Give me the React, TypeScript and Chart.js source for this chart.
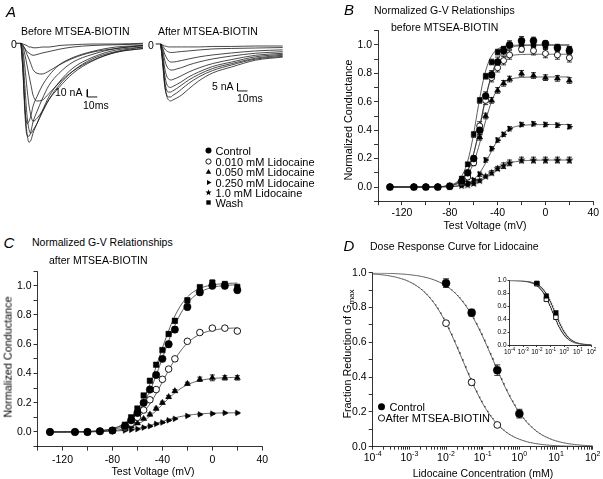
import React, { useEffect, useRef } from 'react';
import { Chart, registerables } from 'chart.js';

Chart.register(...registerables);

const FONT = '"Liberation Sans", Arial, Helvetica, sans-serif';

// ---------------- Panel A: current traces (ms, nA) ----------------
const traceTimesMs = [0, 2, 4, 6, 8, 10, 12, 16, 21, 28, 38, 52, 71, 95, 122];
const tracesBeforeNA = [
  [0, -1, -2, -3, -5, -5, -6, -6, -5, -5, -3, -2, -1, -1, 0],
  [0, -3, -7, -11, -13, -15, -16, -15, -13, -11, -8, -5, -3, -2, -1],
  [0, -3, -8, -15, -21, -28, -35, -40, -41, -37, -29, -20, -12, -7, -3],
  [0, -5, -16, -29, -43, -56, -69, -77, -76, -67, -53, -37, -23, -12, -7],
  [0, -11, -33, -60, -83, -97, -104, -100, -91, -75, -59, -40, -24, -12, -7],
  [0, -20, -60, -96, -115, -120, -116, -107, -93, -75, -56, -37, -21, -11, -5],
  [0, -33, -87, -120, -132, -129, -120, -107, -91, -71, -52, -33, -19, -9, -5],
  [0, -40, -96, -123, -124, -117, -105, -91, -75, -56, -40, -25, -15, -7, -3],
  [0, -37, -87, -107, -104, -96, -84, -71, -57, -43, -29, -19, -11, -5, -3],
];
const tracesAfterNA = [
  [0, -0.6, -1.3, -1.6, -1.9, -1.9, -1.9, -1.9, -1.9, -1.9, -1.9, -1.6, -1.6, -1.3, -1.3],
  [0, -1.3, -3.2, -4.5, -5.2, -5.5, -5.5, -5.2, -4.9, -4.5, -3.9, -3.2, -2.9, -2.6, -2.3],
  [0, -2.6, -6.5, -9.1, -11, -11.7, -11.7, -11.4, -10.7, -9.7, -8.4, -7.1, -5.8, -4.5, -3.8],
  [0, -3.9, -10.4, -14.3, -16.2, -16.9, -16.9, -16.2, -15.3, -13.6, -11.7, -9.7, -7.8, -6.0, -5.0],
  [0, -6.5, -15.6, -20.8, -22.7, -23.4, -23.1, -22.1, -20.5, -18.2, -15.6, -12.7, -10.1, -7.3, -6.0],
  [0, -9.1, -20.1, -26, -27.9, -28.2, -27.6, -26.3, -24.4, -21.4, -18.2, -14.6, -11.7, -8.3, -6.7],
  [0, -11, -24, -29.9, -31.2, -31.2, -30.5, -28.9, -26.6, -23.4, -19.8, -15.9, -12.7, -9.2, -7.3],
  [0, -13, -27.3, -33.1, -34.4, -34.4, -33.4, -31.8, -29.2, -25.6, -21.4, -17.2, -13.6, -9.8, -8.0],
  [0, -11.7, -26, -33.8, -36.4, -37, -36.4, -35.1, -33.1, -29.2, -24, -18.8, -14.9, -10.5, -8.5],
];
const scaleBarBefore = { t: 66.3, i: -71.6, nA: 10, ms: 10 };
const scaleBarAfter = { t: 76.8, i: -30.5, nA: 5, ms: 10 };

const legendLabels = ['Control', '0.010 mM Lidocaine', '0.050 mM Lidocaine', '0.250 mM Lidocaine', '1.0 mM Lidocaine', 'Wash'];

// ---------------- Panel B: G-V before MTSEA-BIOTIN ----------------
const bVolt = [-130, -110, -100, -90, -80, -70, -65, -60, -55, -50, -45, -40, -35, -30, -20, -10, 0, 10, 20];
const bControl = [0, 0, 0, 0, 0.005, 0.04, 0.1, 0.2, 0.4, 0.64, 0.79, 0.88, 0.96, 1.0, 1.03, 1.03, 1.01, 0.98, 0.96];
const bControlErr = [0, 0, 0, 0, 0, 0.01, 0.015, 0.02, 0.03, 0.03, 0.03, 0.035, 0.03, 0.03, 0.03, 0.025, 0.02, 0.025, 0.025];
const bLido010 = [0, 0, 0, 0, 0.005, 0.03, 0.07, 0.17, 0.43, 0.61, 0.77, 0.84, 0.89, 0.93, 0.97, 0.96, 0.94, 0.93, 0.91];
const bLido010Err = [0, 0, 0, 0, 0, 0.01, 0.01, 0.02, 0.03, 0.03, 0.03, 0.03, 0.03, 0.03, 0.02, 0.03, 0.03, 0.03, 0.03];
const bLido050 = [0, 0, 0, 0, 0.005, 0.03, 0.08, 0.19, 0.35, 0.5, 0.61, 0.68, 0.73, 0.76, 0.8, 0.785, 0.77, 0.765, 0.75];
const bLido050Err = [0, 0, 0, 0, 0, 0.01, 0.01, 0.015, 0.02, 0.02, 0.02, 0.02, 0.02, 0.02, 0.02, 0.02, 0.02, 0.02, 0.02];
const bLido250 = [0, 0, 0, 0, 0.003, 0.015, 0.03, 0.05, 0.09, 0.19, 0.27, 0.33, 0.37, 0.41, 0.44, 0.445, 0.44, 0.435, 0.425];
const bLido250Err = [0, 0, 0, 0, 0, 0.005, 0.01, 0.01, 0.015, 0.015, 0.015, 0.015, 0.015, 0.015, 0.015, 0.015, 0.015, 0.015, 0.015];
const bLido1000 = [0, 0, 0, 0, 0.002, 0.01, 0.015, 0.025, 0.045, 0.075, 0.1, 0.13, 0.15, 0.17, 0.19, 0.19, 0.19, 0.19, 0.19];
const bLido1000Err = [0, 0, 0, 0, 0, 0.005, 0.005, 0.01, 0.01, 0.01, 0.015, 0.015, 0.02, 0.02, 0.02, 0.02, 0.02, 0.02, 0.02];
const bWash = [0, 0, 0, 0, 0.01, 0.06, 0.16, 0.37, 0.61, 0.78, 0.88, 0.95, 0.97, 1.0, 1.0, 1.0, 0.99, 0.98, 0.97];
const bWashErr = [0, 0, 0, 0, 0, 0.01, 0.015, 0.02, 0.02, 0.02, 0.02, 0.02, 0.02, 0.02, 0.02, 0.02, 0.02, 0.02, 0.02];
// Boltzmann fit parameters: [Control, 0.010, 0.050, 0.250, 1.0, Wash]
const bFitGmax = [1.0, 0.935, 0.775, 0.44, 0.19, 1.0];
const bFitVhalf = [-53, -54, -52.5, -47, -47, -57.5];
const bFitSlope = [6, 5.5, 6, 6.5, 8, 5];

// ---------------- Panel C: G-V after MTSEA-BIOTIN ----------------
const cVolt = [-130, -110, -100, -90, -80, -70, -65, -60, -55, -50, -45, -40, -35, -30, -20, -10, 0, 10, 20];
const cControl = [0, 0, 0, 0.005, 0.01, 0.04, 0.08, 0.13, 0.2, 0.29, 0.39, 0.5, 0.6, 0.7, 0.855, 0.955, 1.0, 1.0, 0.97];
const cControlErr = [0, 0, 0, 0, 0, 0, 0, 0.01, 0.01, 0.01, 0.015, 0.015, 0.02, 0.02, 0.02, 0.02, 0.02, 0.02, 0.02];
const cLido010 = [0, 0, 0, 0.005, 0.01, 0.03, 0.06, 0.1, 0.15, 0.22, 0.29, 0.36, 0.43, 0.5, 0.62, 0.68, 0.71, 0.71, 0.69];
const cLido010Err = [0, 0, 0, 0, 0, 0, 0, 0.01, 0.01, 0.01, 0.01, 0.01, 0.01, 0.015, 0.01, 0.01, 0.01, 0.01, 0.01];
const cLido050 = [0, 0, 0, 0.003, 0.008, 0.02, 0.04, 0.06, 0.09, 0.12, 0.16, 0.2, 0.24, 0.28, 0.33, 0.36, 0.37, 0.37, 0.37];
const cLido050Err = [0, 0, 0, 0, 0, 0, 0, 0.005, 0.005, 0.01, 0.01, 0.01, 0.01, 0.01, 0.01, 0.015, 0.02, 0.015, 0.015];
const cLido250 = [0, 0, 0, 0.002, 0.005, 0.01, 0.015, 0.02, 0.03, 0.04, 0.055, 0.065, 0.08, 0.09, 0.11, 0.12, 0.125, 0.13, 0.13];
const cLido250Err = [0, 0, 0, 0, 0, 0, 0, 0, 0.005, 0.005, 0.005, 0.005, 0.005, 0.005, 0.005, 0.005, 0.005, 0.005, 0.005];
const cWash = [0, 0, 0, 0.005, 0.01, 0.05, 0.1, 0.16, 0.25, 0.35, 0.46, 0.56, 0.67, 0.76, 0.9, 0.99, 1.02, 1.01, 0.99];
const cWashErr = [0, 0, 0, 0, 0, 0, 0.01, 0.01, 0.01, 0.01, 0.01, 0.01, 0.015, 0.015, 0.015, 0.015, 0.02, 0.02, 0.02];
// Boltzmann fit parameters: [Control, 0.010, 0.050, 0.250, Wash]
const cFitGmax = [1.01, 0.715, 0.375, 0.132, 1.02];
const cFitVhalf = [-40, -39, -40, -42, -42.5];
const cFitSlope = [10.5, 11, 11, 12, 10];

// ---------------- Panel D: dose response ----------------
const dConc = [0.01, 0.05, 0.25, 1.0];
const dControl = [0.94, 0.77, 0.44, 0.19];
const dControlErr = [0.025, 0.02, 0.03, 0.025];
const dAfterConc = [0.01, 0.05, 0.25];
const dAfter = [0.71, 0.37, 0.125];
const dAfterErr = [0.01, 0.015, 0.01];
const dFitIC50 = [0.19, 0.028]; // [Control, After]
const dFitHill = [0.85, 0.87];
const dExps = [-4, -3, -2, -1, 0, 1, 2];

// inset
const insetConc = [0.01, 0.05, 0.25];
const insetControl = [0.96, 0.76, 0.5];
const insetAfter = [0.95, 0.71, 0.43];
const insetFitIC50 = [0.22, 0.15];
const insetFitHill = [0.9, 0.9];

// ---------------- helpers ----------------
const boltz = (v: number, g: number, vh: number, k: number) => g / (1 + Math.exp((vh - v) / k));
const hill = (c: number, ic: number, n: number) => 1 / (1 + Math.pow(c / ic, n));
const fitVoltages: number[] = [];
for (let v = -130; v <= 20; v += 1) fitVoltages.push(v);
const fitConcs: number[] = [];
for (let i = 0; i <= 300; i++) fitConcs.push(Math.pow(10, -4 + i * 0.02));
const logTickValues: number[] = [];
for (let e = -4; e < 2; e++) for (let m = 1; m <= 9; m++) logTickValues.push(m * Math.pow(10, e));
logTickValues.push(100);

function starPath(ctx: CanvasRenderingContext2D, x: number, y: number, R: number, r: number) {
  for (let i = 0; i < 10; i++) {
    const ang = -Math.PI / 2 + (i * Math.PI) / 5;
    const rr = i % 2 === 0 ? R : r;
    const px = x + rr * Math.cos(ang);
    const py = y + rr * Math.sin(ang);
    if (i === 0) ctx.moveTo(px, py);
    else ctx.lineTo(px, py);
  }
  ctx.closePath();
}

function drawMarker(ctx: CanvasRenderingContext2D, k: string, x: number, y: number, r: number) {
  ctx.save();
  ctx.lineWidth = 0.9;
  ctx.strokeStyle = '#000';
  ctx.fillStyle = '#000';
  ctx.beginPath();
  if (k === 'dot' || k === 'ring') {
    ctx.arc(x, y, r, 0, Math.PI * 2);
    if (k === 'ring') {
      ctx.fillStyle = '#fff';
      ctx.fill();
      ctx.stroke();
    } else ctx.fill();
  } else if (k === 'up') {
    ctx.moveTo(x, y - r);
    ctx.lineTo(x + r * 0.866, y + r / 2);
    ctx.lineTo(x - r * 0.866, y + r / 2);
    ctx.closePath();
    ctx.fill();
  } else if (k === 'right') {
    ctx.moveTo(x + r, y);
    ctx.lineTo(x - r / 2, y + r * 0.866);
    ctx.lineTo(x - r / 2, y - r * 0.866);
    ctx.closePath();
    ctx.fill();
  } else if (k === 'star') {
    starPath(ctx, x, y, r, r * 0.42);
    ctx.fill();
  } else if (k === 'square') {
    ctx.rect(x - r, y - r, 2 * r, 2 * r);
    ctx.fill();
  }
  ctx.restore();
}

const marksPlugin = {
  id: 'marks',
  afterDraw(chart: any, _a: any, opts: any) {
    if (!opts || !opts.items) return;
    const ctx = chart.ctx;
    for (const m of opts.items) drawMarker(ctx, m.k, m.x, m.y, m.r);
  },
};

const zeroTicksPlugin = {
  id: 'zeroTicks',
  afterDraw(chart: any, _a: any, opts: any) {
    if (!opts || !opts.pairs) return;
    const ctx = chart.ctx;
    ctx.save();
    ctx.strokeStyle = '#000';
    ctx.lineWidth = 0.9;
    for (const [xid, yid] of opts.pairs) {
      const x0 = chart.scales[xid].getPixelForValue(0);
      const y0 = chart.scales[yid].getPixelForValue(0);
      ctx.beginPath();
      ctx.moveTo(x0 - 5, y0);
      ctx.lineTo(x0, y0);
      ctx.stroke();
    }
    ctx.restore();
  },
};

const errorBarsPlugin = {
  id: 'errorBars',
  beforeDatasetsDraw(chart: any, _a: any, opts: any) {
    const ctx = chart.ctx;
    const cap = (opts && opts.cap) || 2.5;
    ctx.save();
    ctx.strokeStyle = '#000';
    ctx.lineWidth = 0.8;
    chart.data.datasets.forEach((ds: any, di: number) => {
      if (!ds.errors) return;
      const meta = chart.getDatasetMeta(di);
      const ys = chart.scales[meta.yAxisID];
      meta.data.forEach((el: any, i: number) => {
        const e = ds.errors[i];
        if (!e) return;
        const v = ds.data[i].y;
        const yt = ys.getPixelForValue(v + e);
        const yb = ys.getPixelForValue(v - e);
        ctx.beginPath();
        ctx.moveTo(el.x, yt);
        ctx.lineTo(el.x, yb);
        ctx.moveTo(el.x - cap, yt);
        ctx.lineTo(el.x + cap, yt);
        ctx.moveTo(el.x - cap, yb);
        ctx.lineTo(el.x + cap, yb);
        ctx.stroke();
      });
    });
    ctx.restore();
  },
};

const powLabelsPlugin = {
  id: 'powLabels',
  afterDraw(chart: any, _a: any, opts: any) {
    if (!opts || !opts.exps) return;
    const ctx = chart.ctx;
    const sc = chart.scales.x;
    const baseY = chart.chartArea.bottom + opts.dy;
    ctx.save();
    ctx.fillStyle = '#000';
    ctx.textBaseline = 'alphabetic';
    ctx.textAlign = 'left';
    for (const e of opts.exps) {
      const x = sc.getPixelForValue(Math.pow(10, e));
      ctx.font = `${opts.size}px ${FONT}`;
      const w1 = ctx.measureText('10').width;
      ctx.font = `${opts.sup}px ${FONT}`;
      const sup = String(e);
      const w2 = ctx.measureText(sup).width;
      const x0 = x - (w1 + w2) / 2;
      ctx.font = `${opts.size}px ${FONT}`;
      ctx.fillText('10', x0, baseY);
      ctx.font = `${opts.sup}px ${FONT}`;
      ctx.fillText(sup, x0 + w1, baseY - opts.raise);
    }
    ctx.restore();
  },
};

function makeStar(): HTMLCanvasElement {
  const c = document.createElement('canvas');
  c.width = 9;
  c.height = 9;
  const ctx = c.getContext('2d')!;
  ctx.fillStyle = '#000';
  ctx.beginPath();
  starPath(ctx, 4.5, 4.7, 4.2, 1.8);
  ctx.fill();
  return c;
}

function axis(o: any) {
  return {
    type: o.type || 'linear',
    min: o.min,
    max: o.max,
    afterFit: (s: any) => {
      if (o.width != null) s.width = o.width;
      if (o.height != null) s.height = o.height;
    },
    afterBuildTicks: o.tickValues
      ? (s: any) => {
          s.ticks = o.tickValues.map((v: number) => ({ value: v }));
        }
      : undefined,
    ticks: {
      stepSize: o.step,
      autoSkip: false,
      maxRotation: 0,
      minRotation: 0,
      color: '#000',
      font: { family: FONT, size: o.fontSize || 10.5 },
      padding: o.pad ?? 2,
      callback: o.cb,
    },
    grid: { drawOnChartArea: false, drawTicks: true, tickLength: o.tickLen ?? 4, color: '#000', lineWidth: 0.8 },
    border: { display: true, color: '#000', width: 0.8 },
  };
}

const yTenthsCb = (v: any) => {
  const k = Math.round(Number(v) * 10);
  return k >= 0 && k <= 10 && k % 2 === 0 ? (k / 10).toFixed(1) : '';
};
const xFortyCb = (v: any) => (Math.round(Number(v)) % 40 === 0 ? String(Math.round(Number(v))) : '');

function pointDs(xs: number[], ys: number[], errs: number[] | null, mark: any) {
  return {
    data: xs.map((x, i) => ({ x, y: ys[i] })),
    errors: errs,
    showLine: false,
    pointStyle: mark.style,
    pointRadius: mark.r,
    pointRotation: mark.rot || 0,
    backgroundColor: mark.fill,
    borderColor: '#000',
    borderWidth: mark.fill === '#fff' ? 0.9 : 0.5,
    order: 0,
  };
}
function lineDs(pts: { x: number; y: number }[]) {
  return {
    data: pts,
    showLine: true,
    borderColor: '#333',
    borderWidth: 0.8,
    pointRadius: 0,
    tension: 0,
    order: 1,
  };
}

function baseOptions(pad: any) {
  return {
    responsive: false,
    animation: false,
    devicePixelRatio: 1,
    events: [],
    layout: { padding: pad },
  };
}

export default function App() {
  const aRef = useRef<HTMLCanvasElement>(null);
  const bRef = useRef<HTMLCanvasElement>(null);
  const cRef = useRef<HTMLCanvasElement>(null);
  const dRef = useRef<HTMLCanvasElement>(null);
  const iRef = useRef<HTMLCanvasElement>(null);

  useEffect(() => {
    const star = makeStar();
    const charts: Chart[] = [];

    // ---------- Panel A ----------
    const traceDs = (traces: number[][], xid: string, yid: string) =>
      traces.map((tr) => ({
        data: traceTimesMs.map((t, i) => ({ x: t, y: tr[i] })),
        xAxisID: xid,
        yAxisID: yid,
        showLine: true,
        borderColor: '#1a1a1a',
        borderWidth: 0.8,
        pointRadius: 0,
        cubicInterpolationMode: 'monotone',
      }));
    const barDs = (b: any, xid: string, yid: string) => ({
      data: [
        { x: b.t, y: b.i + b.nA },
        { x: b.t, y: b.i },
        { x: b.t + b.ms, y: b.i },
      ],
      xAxisID: xid,
      yAxisID: yid,
      showLine: true,
      borderColor: '#000',
      borderWidth: 0.9,
      pointRadius: 0,
      tension: 0,
    });
    const legendX = 208.5;
    const legendY = [150.5, 161.5, 172.2, 182.5, 192.5, 202.5];
    const legendKinds = [
      { k: 'dot', r: 3 },
      { k: 'ring', r: 2.6 },
      { k: 'up', r: 3.2 },
      { k: 'right', r: 3 },
      { k: 'star', r: 3.3 },
      { k: 'square', r: 2.2 },
    ];
    charts.push(
      new Chart(aRef.current!, {
        type: 'scatter',
        data: {
          datasets: [
            ...traceDs(tracesBeforeNA, 'x', 'y'),
            ...traceDs(tracesAfterNA, 'xa', 'ya'),
            barDs(scaleBarBefore, 'x', 'y'),
            barDs(scaleBarAfter, 'xa', 'ya'),
          ] as any,
        },
        options: {
          ...baseOptions(0),
          plugins: {
            legend: { display: false },
            tooltip: { enabled: false },
            marks: { items: legendKinds.map((m, i) => ({ ...m, x: legendX, y: legendY[i] })) },
            zeroTicks: { pairs: [['x', 'y'], ['xa', 'ya']] },
          },
          scales: {
            x: { type: 'linear', display: false, min: -21, max: 319 },
            y: { type: 'linear', display: false, min: -249.0, max: 57.7 },
            xa: { type: 'linear', display: false, min: -160.7, max: 179.3 },
            ya: { type: 'linear', display: false, min: -120.78, max: 28.57 },
          },
        } as any,
        plugins: [marksPlugin, zeroTicksPlugin],
      })
    );

    // ---------- G-V panels ----------
    const markControl = { style: 'circle', r: 3.5, fill: '#000' };
    const mark010 = { style: 'circle', r: 3, fill: '#fff' };
    const mark050 = { style: 'triangle', r: 3.5, fill: '#000' };
    const mark250 = { style: 'triangle', r: 3.3, fill: '#000', rot: 90 };
    const mark1000 = { style: star, r: 3, fill: '#000' };
    const markWash = { style: 'rect', r: 3.4, fill: '#000' };

    const bSeries = [
      [bControl, bControlErr, markControl],
      [bLido010, bLido010Err, mark010],
      [bLido050, bLido050Err, mark050],
      [bLido250, bLido250Err, mark250],
      [bLido1000, bLido1000Err, mark1000],
      [bWash, bWashErr, markWash],
    ];
    const bDatasets: any[] = bSeries.map(([v, e, m]: any) => pointDs(bVolt, v, e, m));
    bFitGmax.forEach((g, i) =>
      bDatasets.push(lineDs(fitVoltages.map((v) => ({ x: v, y: boltz(v, g, bFitVhalf[i], bFitSlope[i]) }))))
    );
    charts.push(
      new Chart(bRef.current!, {
        type: 'scatter',
        data: { datasets: bDatasets },
        options: {
          ...baseOptions({ top: 30.8, right: 9.7, left: 0, bottom: 0 }),
          plugins: { legend: { display: false }, tooltip: { enabled: false }, errorBars: { cap: 2.5 } },
          scales: {
            x: axis({ min: -140, max: 40, step: 20, height: 33.8, cb: xFortyCb, pad: 2 }),
            y: axis({ min: -0.1, max: 1.1, step: 0.1, width: 38, cb: yTenthsCb, pad: 2 }),
          },
        } as any,
        plugins: [errorBarsPlugin],
      })
    );

    const markControlC = { style: 'circle', r: 3.7, fill: '#000' };
    const mark010C = { style: 'circle', r: 3.3, fill: '#fff' };
    const markWashC = { style: 'rect', r: 3.9, fill: '#000' };
    const cSeries = [
      [cControl, cControlErr, markControlC],
      [cWash, cWashErr, markWashC],
      [cLido010, cLido010Err, mark010C],
      [cLido050, cLido050Err, mark050],
      [cLido250, cLido250Err, mark250],
    ];
    const cDatasets: any[] = cSeries.map(([v, e, m]: any) => pointDs(cVolt, v, e, m));
    cFitGmax.forEach((g, i) =>
      cDatasets.push(lineDs(fitVoltages.map((v) => ({ x: v, y: boltz(v, g, cFitVhalf[i], cFitSlope[i]) }))))
    );
    charts.push(
      new Chart(cRef.current!, {
        type: 'scatter',
        data: { datasets: cDatasets },
        options: {
          ...baseOptions({ top: 16.1, right: 37.7, left: 0, bottom: 0 }),
          plugins: { legend: { display: false }, tooltip: { enabled: false }, errorBars: { cap: 2.5 } },
          scales: {
            x: axis({ min: -140, max: 40, step: 20, height: 32.4, cb: xFortyCb, pad: 3.5 }),
            y: axis({ min: -0.1, max: 1.1, step: 0.1, width: 37.5, cb: yTenthsCb, pad: 2 }),
          },
        } as any,
        plugins: [errorBarsPlugin],
      })
    );

    // ---------- Panel D ----------
    const dDatasets: any[] = [
      pointDs(dConc, dControl, dControlErr, { style: 'circle', r: 4, fill: '#000' }),
      pointDs(dAfterConc, dAfter, dAfterErr, { style: 'circle', r: 3.4, fill: '#fff' }),
      lineDs(fitConcs.map((c) => ({ x: c, y: hill(c, dFitIC50[0], dFitHill[0]) }))),
      lineDs(fitConcs.map((c) => ({ x: c, y: hill(c, dFitIC50[1], dFitHill[1]) }))),
    ];
    charts.push(
      new Chart(dRef.current!, {
        type: 'scatter',
        data: { datasets: dDatasets },
        options: {
          ...baseOptions({ top: 17.7, right: 10.3, left: 0, bottom: 0 }),
          plugins: {
            legend: { display: false },
            tooltip: { enabled: false },
            errorBars: { cap: 3 },
            powLabels: { exps: dExps, size: 10.5, sup: 7, raise: 4.5, dy: 14 },
            marks: {
              items: [
                { k: 'dot', x: 51.5, y: 151.7, r: 3.5 },
                { k: 'ring', x: 51.5, y: 163, r: 3.1 },
              ],
            },
          },
          scales: {
            x: axis({ type: 'logarithmic', min: 1e-4, max: 100, height: 32.3, tickValues: logTickValues, cb: () => '', tickLen: 3 }),
            y: axis({ min: 0, max: 1, step: 0.1, width: 42.7, cb: yTenthsCb, pad: 2 }),
          },
        } as any,
        plugins: [errorBarsPlugin, powLabelsPlugin, marksPlugin],
      })
    );

    // ---------- Inset ----------
    const iDatasets: any[] = [
      pointDs(insetConc, insetControl, null, { style: 'rect', r: 3.2, fill: '#000' }),
      pointDs(insetConc, insetAfter, null, { style: 'rect', r: 3.2, fill: '#fff' }),
      lineDs(fitConcs.map((c) => ({ x: c, y: hill(c, insetFitIC50[0], insetFitHill[0]) }))),
      lineDs(fitConcs.map((c) => ({ x: c, y: hill(c, insetFitIC50[1], insetFitHill[1]) }))),
    ];
    charts.push(
      new Chart(iRef.current!, {
        type: 'scatter',
        data: { datasets: iDatasets },
        options: {
          ...baseOptions({ top: 12.5, right: 11.5, left: 0, bottom: 0 }),
          plugins: {
            legend: { display: false },
            tooltip: { enabled: false },
            powLabels: { exps: dExps, size: 6.5, sup: 4.5, raise: 3, dy: 9 },
          },
          scales: {
            x: axis({ type: 'logarithmic', min: 1e-4, max: 100, height: 13, tickValues: dExps.map((e) => Math.pow(10, e)), cb: () => '', tickLen: 2 }),
            y: axis({ min: 0, max: 1, step: 0.2, width: 29.5, cb: yTenthsCb, pad: 1, tickLen: 2, fontSize: 6.5 }),
          },
        } as any,
        plugins: [powLabelsPlugin],
      })
    );

    return () => charts.forEach((c) => c.destroy());
  }, []);

  const cv = (ref: any, left: number, top: number, w: number, h: number) => (
    <canvas ref={ref} width={w} height={h} style={{ position: 'absolute', left, top, width: w, height: h }} />
  );

  return (
    <div
      style={{
        position: 'absolute',
        left: 0,
        top: 0,
        width: 603,
        height: 479,
        background: '#fff',
        overflow: 'hidden',
        fontFamily: FONT,
        color: '#000',
      }}
    >
      {cv(aRef, 0, 0, 340, 230)}
      {cv(bRef, 340, 0, 263, 235)}
      {cv(cRef, 0, 255, 300, 224)}
      {cv(dRef, 330, 255, 273, 224)}
      {cv(iRef, 480, 268, 123, 90)}

      {/* Panel A texts */}
      <Tx x={11} y={11} s={15} a="c" it>A</Tx>
      <Tx x={21} y={31}>Before MTSEA-BIOTIN</Tx>
      <Tx x={158} y={31}>After MTSEA-BIOTIN</Tx>
      <Tx x={14} y={43.5} a="c">0</Tx>
      <Tx x={151} y={44.5} a="c">0</Tx>
      <Tx x={55} y={92}>10 nA</Tx>
      <Tx x={83} y={104.5}>10ms</Tx>
      <Tx x={212} y={86}>5 nA</Tx>
      <Tx x={237} y={98}>10ms</Tx>
      {legendLabels.map((l, i) => (
        <Tx key={l} x={215.5} y={[150.5, 161.5, 172.2, 182.5, 192.5, 202.5][i]} s={11}>
          {l}
        </Tx>
      ))}

      {/* Panel B texts */}
      <Tx x={349} y={9} s={15} a="c" it>B</Tx>
      <Tx x={374} y={10}>Normalized G-V Relationships</Tx>
      <Tx x={391} y={27}>before MTSEA-BIOTIN</Tx>
      <Tx x={347.5} y={120} rot s={10.8}>Normalized Conductance</Tx>
      <Tx x={485} y={225} a="c">Test Voltage (mV)</Tx>

      {/* Panel C texts */}
      <Tx x={9} y={242} s={15} a="c" it>C</Tx>
      <Tx x={32} y={242}>Normalized G-V Relationships</Tx>
      <Tx x={49} y={260}>after MTSEA-BIOTIN</Tx>
      <Tx x={8} y={357} rot s={10.8}>Normalized Conductance</Tx>
      <Tx x={153} y={470.7} a="c">Test Voltage (mV)</Tx>

      {/* Panel D texts */}
      <Tx x={349} y={245} s={15} a="c" it>D</Tx>
      <Tx x={370} y={246}>Dose Response Curve for Lidocaine</Tx>
      <Tx x={347} y={354} rot s={10.8}>
        Fraction Reduction of G<span style={{ fontSize: 8, position: 'relative', top: 3 }}>max</span>
      </Tx>
      <Tx x={483} y={473} a="c">Lidocaine Concentration (mM)</Tx>
      <Tx x={389.5} y={406.7} s={11}>Control</Tx>
      <Tx x={385.5} y={418} s={11}>After MTSEA-BIOTIN</Tx>
    </div>
  );
}

type TP = { x: number; y: number; s?: number; a?: 'l' | 'c'; it?: boolean; rot?: boolean; children: React.ReactNode };
function Tx({ x, y, s = 10.5, a = 'l', it = false, rot = false, children }: TP) {
  const tf = rot ? 'translate(-50%,-50%) rotate(-90deg)' : a === 'c' ? 'translate(-50%,-50%)' : 'translate(0,-50%)';
  return (
    <div
      style={{
        position: 'absolute',
        left: x,
        top: y,
        fontSize: s,
        lineHeight: 1,
        whiteSpace: 'nowrap',
        fontStyle: it ? 'italic' : 'normal',
        transform: tf,
        fontFamily: FONT,
      }}
    >
      {children}
    </div>
  );
}
